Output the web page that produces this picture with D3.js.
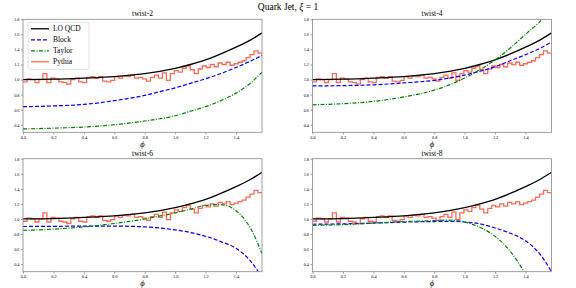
<!DOCTYPE html>
<html>
<head>
<meta charset="utf-8">
<script src="https://cdn.jsdelivr.net/npm/d3@7"></script>
<style>
  body { margin: 0; background: #fff; }
  svg { display: block; }
  text { font-family: "Liberation Serif", "DejaVu Serif", serif; fill: #000; }
</style>
</head>
<body>
<div id="frame"></div>
<script>
// VARIABLES
const width = 576;
const height = 288;

// data: sample points of the smooth curves
const phiGrid = [0, 0.2, 0.4, 0.6, 0.8, 0.9, 1.0, 1.1, 1.2, 1.3, 1.4, 1.5, 1.5708];

const loQcd = [1.0, 1.005, 1.02, 1.04, 1.08, 1.11, 1.15, 1.2, 1.26, 1.34, 1.43, 1.53, 1.62];

const panelTitles = ["twist-2", "twist-4", "twist-6", "twist-8"];

const blockVals = [
    [0.64, 0.65, 0.67, 0.72, 0.79, 0.84, 0.89, 0.95, 1.01, 1.08, 1.16, 1.25, 1.32],
    [0.915, 0.92, 0.93, 0.955, 0.99, 1.02, 1.06, 1.11, 1.17, 1.25, 1.33, 1.42, 1.50],
    [0.90, 0.902, 0.905, 0.905, 0.895, 0.88, 0.855, 0.82, 0.77, 0.70, 0.61, 0.43, 0.22],
    [0.93, 0.935, 0.945, 0.958, 0.966, 0.968, 0.96, 0.935, 0.88, 0.81, 0.71, 0.52, 0.30]
];

const taylorVals = [
    [0.345, 0.355, 0.37, 0.40, 0.45, 0.48, 0.52, 0.58, 0.64, 0.72, 0.82, 0.96, 1.10],
    [0.665, 0.68, 0.71, 0.77, 0.86, 0.93, 1.02, 1.13, 1.26, 1.42, 1.60, 1.78, 1.93],
    [0.85, 0.865, 0.895, 0.94, 1.0, 1.04, 1.08, 1.13, 1.18, 1.19, 1.11, 0.86, 0.54],
    [0.915, 0.925, 0.945, 0.965, 0.978, 0.985, 0.96, 0.89, 0.77, 0.57, 0.26, -0.2, -0.6]
];

// Pythia histogram, 60 bins over [0, pi/2]
const pythiaBins = [
    0.97, 1.01, 1.00, 0.96, 1.00, 1.08, 0.96, 1.02, 1.01, 0.97,
    0.96, 0.94, 1.00, 1.02, 0.97, 0.96, 1.03, 1.04, 1.02, 1.04,
    0.98, 0.97, 0.99, 1.04, 1.02, 1.05, 1.04, 1.06, 1.02, 1.03,
    1.01, 0.98, 1.03, 1.06, 1.02, 1.09, 0.99, 1.08, 1.12, 1.10,
    1.15, 1.18, 1.13, 1.08, 1.14, 1.18, 1.16, 1.20, 1.17, 1.22,
    1.20, 1.23, 1.19, 1.21, 1.23, 1.25, 1.29, 1.33, 1.38, 1.35
];

const xTicks = [0.0, 0.2, 0.4, 0.6, 0.8, 1.0, 1.2, 1.4];
const yTicks = [0.4, 0.6, 0.8, 1.0, 1.2, 1.4, 1.6, 1.8];

const legendLabels = ["LO QCD", "Block", "Taylor", "Pythia"];

// styles
const colBlack = "#000000";
const colBlue = "#0000ff";
const colGreen = "#008000";
const colPythia = "#fa6b56";

// panel layout
const panelW = 239;
const panelH = 113;
const panelPos = [
    [23, 19.3],
    [312.5, 19.3],
    [23, 158.7],
    [312.5, 158.7]
];

const svg = d3.select("#frame")
    .append("svg")
        .attr("width", width)
        .attr("height", height)
        .attr("viewBox", [0, 0, width, height]);

// title
const title = svg.append("text")
    .attr("x", 288)
    .attr("y", 10)
    .attr("text-anchor", "middle")
    .attr("font-size", 9.5);
title.append("tspan").text("Quark Jet, ");
title.append("tspan").attr("font-style", "italic").text("ξ");
title.append("tspan").text(" = 1");

const x = d3.scaleLinear().domain([0, Math.PI / 2]).range([0, panelW]);
const y = d3.scaleLinear().domain([0.3, 1.8]).range([panelH, 0]);

const line = d3.line()
    .x((d, i) => x(phiGrid[i]))
    .y(d => y(d))
    .curve(d3.curveMonotoneX);

// step path for histogram
const binW = (Math.PI / 2) / pythiaBins.length;
const stepPts = [];
pythiaBins.forEach((v, i) => {
    stepPts.push([i * binW, v]);
    stepPts.push([(i + 1) * binW, v]);
});
const stepLine = d3.line()
    .x(d => x(d[0]))
    .y(d => y(d[1]));

panelTitles.forEach((t, p) => {
    const g = svg.append("g")
        .attr("transform", `translate(${panelPos[p][0]},${panelPos[p][1]})`);

    g.append("clipPath")
        .attr("id", "clip-" + p)
      .append("rect")
        .attr("width", panelW)
        .attr("height", panelH);

    // axes
    const xAxis = g.append("g")
        .attr("transform", `translate(0,${panelH})`)
        .call(d3.axisBottom(x).tickValues(xTicks).tickFormat(d3.format(".1f")).tickSize(2).tickPadding(1.5));
    const yAxis = g.append("g")
        .call(d3.axisLeft(y).tickValues(yTicks).tickFormat(d3.format(".1f")).tickSize(2).tickPadding(1.5));
    [xAxis, yAxis].forEach(a => {
        a.select(".domain").remove();
        a.selectAll("line").attr("stroke", "#555").attr("stroke-width", 0.6);
        a.selectAll("text")
            .attr("font-size", 4.3)
            .attr("font-family", "DejaVu Serif, serif")
            .attr("fill", "#333");
    });

    const plot = g.append("g").attr("clip-path", `url(#clip-${p})`);

    plot.append("path")
        .attr("d", stepLine(stepPts))
        .attr("fill", "none")
        .attr("stroke", colPythia)
        .attr("stroke-width", 1.3);

    plot.append("path")
        .attr("d", line(loQcd))
        .attr("fill", "none")
        .attr("stroke", colBlack)
        .attr("stroke-width", 1.3);

    plot.append("path")
        .attr("d", line(blockVals[p]))
        .attr("fill", "none")
        .attr("stroke", colBlue)
        .attr("stroke-width", 1.2)
        .attr("stroke-dasharray", "4,2");

    plot.append("path")
        .attr("d", line(taylorVals[p]))
        .attr("fill", "none")
        .attr("stroke", colGreen)
        .attr("stroke-width", 1.2)
        .attr("stroke-dasharray", "4,1.5,1,1.5");

    // frame
    g.append("rect")
        .attr("width", panelW)
        .attr("height", panelH)
        .attr("fill", "none")
        .attr("stroke", "#888")
        .attr("stroke-width", 0.8);

    // panel title
    g.append("text")
        .attr("x", panelW / 2)
        .attr("y", -3)
        .attr("text-anchor", "middle")
        .attr("font-size", 7.5)
        .text(t);

    // x label
    g.append("text")
        .attr("x", panelW / 2)
        .attr("y", panelH + 14.5)
        .attr("text-anchor", "middle")
        .attr("font-size", 8.5)
        .attr("font-style", "italic")
        .text("ϕ");
});

// legend in first panel
const leg = svg.append("g")
    .attr("transform", `translate(${panelPos[0][0] + 5},${panelPos[0][1] + 3})`);
leg.append("rect")
    .attr("width", 61)
    .attr("height", 47)
    .attr("rx", 2)
    .attr("fill", "#fff")
    .attr("fill-opacity", 0.85)
    .attr("stroke", "#ccc")
    .attr("stroke-width", 0.6);

const legStyles = [
    { c: colBlack, dash: null },
    { c: colBlue, dash: "4,2" },
    { c: colGreen, dash: "4,1.5,1,1.5" },
    { c: colPythia, dash: null }
];
legendLabels.forEach((lab, i) => {
    const ly = 6.5 + i * 11;
    leg.append("line")
        .attr("x1", 3)
        .attr("x2", 21)
        .attr("y1", ly)
        .attr("y2", ly)
        .attr("stroke", legStyles[i].c)
        .attr("stroke-width", 1.3)
        .attr("stroke-dasharray", legStyles[i].dash);
    leg.append("text")
        .attr("x", 25)
        .attr("y", ly + 2.6)
        .attr("font-size", 7.5)
        .text(lab);
});
</script>
</body>
</html>
